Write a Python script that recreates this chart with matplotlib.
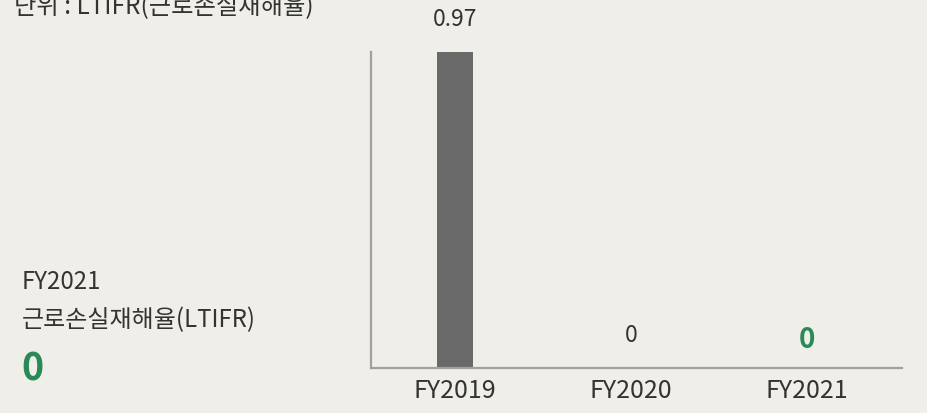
import matplotlib
matplotlib.use("Agg")
import matplotlib.pyplot as plt

plt.rcParams['font.family'] = ['Noto Sans CJK KR', 'DejaVu Sans']

# data
years = ['FY2019', 'FY2020', 'FY2021']
ltifr = [0.97, 0, 0]
value_labels = ['0.97', '0', '0']

BG = '#efeee8'
TXT = '#333333'
GREEN = '#2a8a57'

fig = plt.figure(figsize=(9.27, 4.13), dpi=100)
fig.patch.set_facecolor(BG)

W, H = 927, 413
ax = fig.add_axes([371 / W, 45 / H, 531 / W, 316 / H])
ax.set_facecolor(BG)

x = range(len(years))
ax.bar(x, ltifr, width=0.2, color='#696969', zorder=2)

ax.set_xlim(-0.477, 2.54)
ax.set_ylim(0, 0.97)

for s in ['top', 'right']:
    ax.spines[s].set_visible(False)
for s in ['left', 'bottom']:
    ax.spines[s].set_color('#a0a0a0')
    ax.spines[s].set_linewidth(1.6)

ax.set_yticks([])
ax.set_xticks(list(x))
ax.set_xticklabels(years, fontsize=18, color=TXT)
ax.tick_params(axis='x', length=0, pad=7)

# value labels
for i, (v, lab) in enumerate(zip(ltifr, value_labels)):
    if i == len(years) - 1:
        ax.annotate(lab, (i, v), xytext=(0, 28), textcoords='offset pixels',
                    ha='center', va='center', fontsize=20, fontweight='bold',
                    color=GREEN, annotation_clip=False)
    else:
        ax.annotate(lab, (i, v), xytext=(0, 32), textcoords='offset pixels',
                    ha='center', va='center', fontsize=16.5, color=TXT,
                    annotation_clip=False)

# left side text
fig.text(14 / W, 1 - 7 / H, '단위 : LTIFR(근로손실재해율)', fontsize=17.5,
         color=TXT, ha='left', va='center')
fig.text(22 / W, 1 - 282 / H, years[-1], fontsize=17.3, color=TXT,
         ha='left', va='center')
fig.text(22 / W, 1 - 320 / H, '근로손실재해율(LTIFR)', fontsize=17.3, color=TXT,
         ha='left', va='center')
fig.text(21 / W, 1 - 369 / H, value_labels[-1], fontsize=27, fontweight='bold',
         color=GREEN, ha='left', va='center')

fig.savefig('out.png', dpi=100, facecolor=BG)
